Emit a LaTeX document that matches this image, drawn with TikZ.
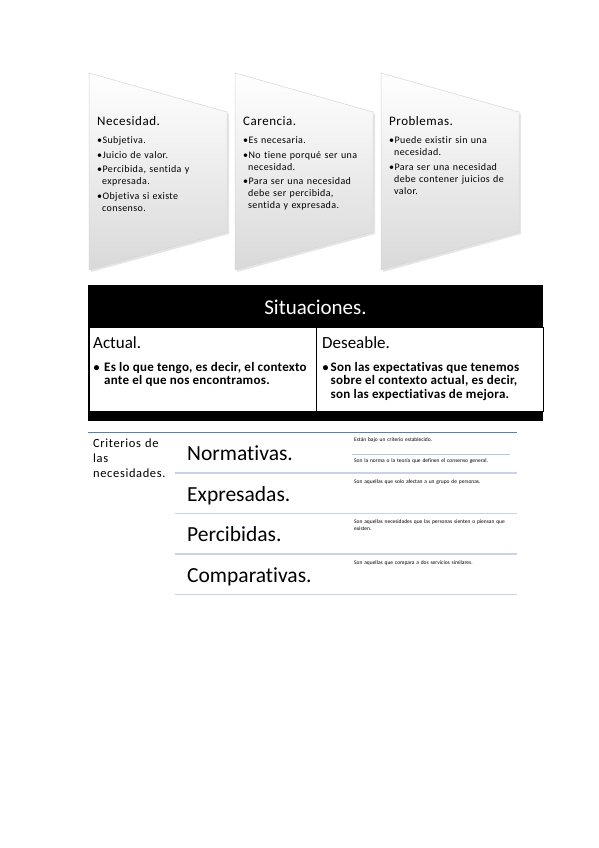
\documentclass[tikz,border=0pt]{standalone}
\usepackage{fontspec}
\setmainfont{Carlito}[Ligatures=NoCommon]
\newfontfamily\trackedfont[LetterSpace=4,Ligatures=NoCommon]{Carlito}
\newfontfamily\trackedfontb[LetterSpace=5,Ligatures=NoCommon]{Carlito}
\newfontfamily\trackedfontc[LetterSpace=2,Ligatures=NoCommon]{Carlito}
\newcommand{\mylines}[1]{\begin{tabular}[t]{@{}l@{}}#1\end{tabular}}
\definecolor{topblue}{HTML}{4F81BD}
\definecolor{rowgray}{HTML}{C9D3E7}
\definecolor{subblue}{HTML}{B6C7E6}
\tikzset{
  chevbox/.style={top color=white, bottom color=black!15, draw=black!16, line width=0.5pt},
  chevshadow/.style={fill=black!10},
  ctitle/.style={font=\trackedfont\fontsize{13}{15}\selectfont, anchor=base west, inner sep=0pt},
  cbody/.style={font=\trackedfont\fontsize{10}{12}\selectfont, anchor=base west, inner sep=0pt, align=left, text width=140pt},
  cellbox/.style={draw=black, fill=white, line width=0.8pt, anchor=north west, inner sep=0pt, minimum height=84pt},
  sittitle/.style={font=\fontsize{21}{24}\selectfont, text=white, inner sep=0pt},
  sithead/.style={font=\fontsize{17}{20}\selectfont, anchor=base west, inner sep=0pt},
  sitbul/.style={font=\bfseries\fontsize{12}{13.5}\selectfont, anchor=base west, inner sep=0pt},
  sittext/.style={font=\trackedfontc\bfseries\fontsize{13}{13.5}\selectfont, anchor=base west, inner sep=0pt},
  crit/.style={font=\trackedfontb\fontsize{12.5}{15}\selectfont, anchor=base west, inner sep=0pt, align=left, text width=80pt},
  lvltwo/.style={font=\fontsize{21.5}{24}\selectfont, anchor=base west, inner sep=0pt},
  lvlthree/.style={font=\fontsize{5.5}{7.5}\selectfont, anchor=base west, inner sep=0pt, align=left, text width=170pt},
  topline/.style={draw=topblue, line width=1pt},
  rowline/.style={draw=rowgray, line width=1.5pt},
  subline/.style={draw=subblue, line width=1pt}
}
\begin{document}
\begin{tikzpicture}[x=1pt,y=-1pt]
\useasboundingbox (0,0) rectangle (599,848);
\fill[white] (0,0) rectangle (599,848);

% chevron panels
\foreach \L in {89,235,381}{
  \fill[chevshadow] (\L+2,75) -- (\L+140,114) -- (\L+140,234) -- (\L+2,272) -- cycle;
  \shadedraw[chevbox] (\L,73) -- (\L+138,112) -- (\L+138,232) -- (\L,270) -- cycle;
}
\node[ctitle] (t1) at (97,125.5) {Necesidad.};
\node[cbody] (b1) at (97,143.5) {•Subjetiva.\\[2.5pt]•Juicio de valor.\\[2.5pt]•Percibida, sentida y\\\phantom{•}expresada.\\[2.5pt]•Objetiva si existe\\\phantom{•}consenso.};
\node[ctitle] (t2) at (243,125.5) {Carencia.};
\node[cbody] (b2) at (243,143.5) {•Es necesaria.\\[2.5pt]•No tiene porqué ser una\\\phantom{•}necesidad.\\[2.5pt]•Para ser una necesidad\\\phantom{•}debe ser percibida,\\\phantom{•}sentida y expresada.};
\node[ctitle] (t3) at (389,125.5) {Problemas.};
\node[cbody] (b3) at (389,143.5) {•Puede existir sin una\\\phantom{•}necesidad.\\[2.5pt]•Para ser una necesidad\\\phantom{•}debe contener juicios de\\\phantom{•}valor.};

% situaciones table
\fill[black] (88,285) rectangle (543,421);
\node[cellbox, minimum width=227.5pt] (cellA) at (88.5,327) {};
\node[cellbox, minimum width=226.5pt] (cellD) at (316,327) {};
\node[sittitle] (sit) at (315.5,307) {Situaciones.};
\node[sithead] (hA) at (93,348.5) {Actual.};
\node[sithead] (hD) at (322,348.5) {Deseable.};
\node[sitbul] (bA) at (93.5,371) {•};
\node[sittext] (xA) at (104,371) {\mylines{Es lo que tengo, es decir, el contexto\\ante el que nos encontramos.}};
\node[sitbul] (bD) at (322.5,371) {•};
\node[sittext] (xD) at (330.5,371) {\mylines{Son las expectativas que tenemos\\sobre el contexto actual, es decir,\\son las expectiativas de mejora.}};

% criterios list
\draw[topline] (88,432) -- (517,432);
\node[crit] (crit) at (93,447.5) {Criterios de\\las\\necesidades.};
\foreach \y in {473,513.5,554,594.5} \draw[rowline] (175,\y) -- (517,\y);
\draw[subline] (352,454) -- (510,454);
\node[lvltwo] (n1) at (187,460.7) {Normativas.};
\node[lvltwo] (n2) at (187,501.2) {Expresadas.};
\node[lvltwo] (n3) at (187,541.7) {Percibidas.};
\node[lvltwo] (n4) at (187,582.2) {Comparativas.};
\node[lvlthree] (d1) at (354,441) {Están bajo un criterio establecido.};
\node[lvlthree] (d2) at (354,462) {Son la norma o la teoría que definen el consenso general.};
\node[lvlthree] (d3) at (354,483) {Son aquellas que solo afectan a un grupo de personas.};
\node[lvlthree] (d4) at (354,523) {Son aquellas necesidades que las personas sienten o piensan que\\existen.};
\node[lvlthree] (d5) at (354,564) {Son aquellas que compara a dos servicios similares.};
\end{tikzpicture}
\end{document}
